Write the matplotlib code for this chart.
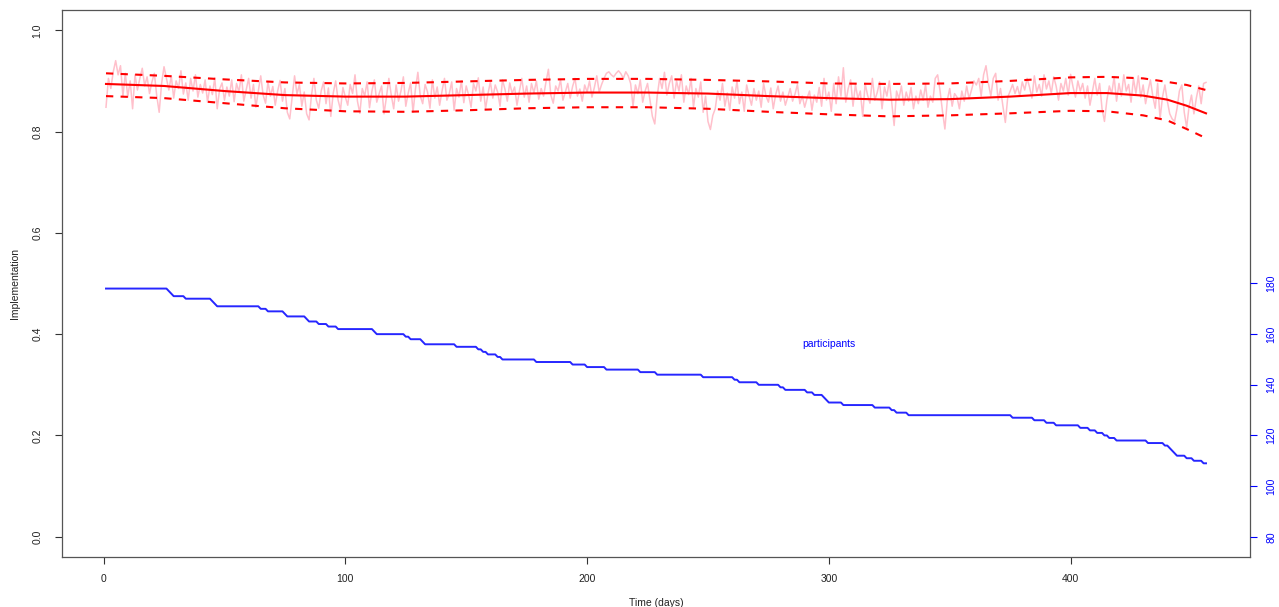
import numpy as np
import matplotlib
matplotlib.use("Agg")
import matplotlib.pyplot as plt

plt.rcParams['font.family'] = ['Liberation Sans', 'DejaVu Sans']

# ---- data -------------------------------------------------------------
# daily implementation (pink), days 1..456
impl_daily = [
    0.848, 0.905, 0.885, 0.918, 0.940, 0.912, 0.930, 0.870, 0.915, 0.868,
    0.900, 0.845, 0.912, 0.882, 0.905, 0.925, 0.890, 0.908, 0.875, 0.898,
    0.915, 0.870, 0.838, 0.895, 0.928, 0.905, 0.882, 0.910, 0.866, 0.900,
    0.885, 0.920, 0.874, 0.896, 0.862, 0.905, 0.880, 0.912, 0.868, 0.893,
    0.876, 0.902, 0.858, 0.890, 0.873, 0.906, 0.845, 0.884, 0.896, 0.862,
    0.888, 0.870, 0.902, 0.859, 0.895, 0.878, 0.912, 0.860, 0.883, 0.905,
    0.866, 0.893, 0.848, 0.880, 0.910, 0.872, 0.856, 0.898, 0.870, 0.889,
    0.852, 0.880, 0.901, 0.860, 0.885, 0.838, 0.825, 0.868, 0.910, 0.874,
    0.893, 0.850, 0.878, 0.835, 0.823, 0.872, 0.905, 0.862, 0.846, 0.880,
    0.898, 0.855, 0.886, 0.830, 0.876, 0.900, 0.862, 0.843, 0.887, 0.868,
    0.852, 0.893, 0.875, 0.912, 0.860, 0.836, 0.885, 0.870, 0.898, 0.847,
    0.880, 0.902, 0.858, 0.875, 0.890, 0.835, 0.868, 0.905, 0.872, 0.845,
    0.892, 0.860, 0.880, 0.908, 0.850, 0.876, 0.896, 0.838, 0.884, 0.917,
    0.870, 0.855, 0.893, 0.878, 0.846, 0.902, 0.866, 0.888, 0.852, 0.880,
    0.905, 0.862, 0.875, 0.898, 0.842, 0.885, 0.868, 0.900, 0.857, 0.890,
    0.872, 0.848, 0.895, 0.880, 0.906, 0.860, 0.888, 0.845, 0.875, 0.898,
    0.866, 0.892, 0.878, 0.850, 0.902, 0.884, 0.860, 0.896, 0.875, 0.888,
    0.852, 0.880, 0.905, 0.868, 0.890, 0.858, 0.895, 0.876, 0.900, 0.864,
    0.885, 0.870, 0.898, 0.923, 0.872, 0.856, 0.890, 0.880, 0.903, 0.862,
    0.878, 0.895, 0.866, 0.889, 0.905, 0.870, 0.884, 0.860, 0.892, 0.878,
    0.900, 0.868, 0.887, 0.910, 0.878, 0.893, 0.905, 0.915, 0.918, 0.912,
    0.908, 0.915, 0.920, 0.914, 0.905, 0.918, 0.910, 0.895, 0.850, 0.892,
    0.875, 0.902, 0.858, 0.880, 0.895, 0.862, 0.830, 0.815, 0.870, 0.905,
    0.885, 0.917, 0.872, 0.895, 0.910, 0.866, 0.900, 0.880, 0.912, 0.858,
    0.890, 0.873, 0.905, 0.848, 0.885, 0.868, 0.898, 0.838, 0.870, 0.820,
    0.804, 0.832, 0.845, 0.880, 0.862, 0.895, 0.850, 0.876, 0.842, 0.888,
    0.866, 0.900, 0.855, 0.878, 0.840, 0.892, 0.870, 0.852, 0.885, 0.862,
    0.880, 0.848, 0.895, 0.870, 0.858, 0.886, 0.845, 0.873, 0.890, 0.860,
    0.878, 0.852, 0.868, 0.885, 0.860, 0.874, 0.893, 0.855, 0.870, 0.848,
    0.866, 0.880, 0.842, 0.872, 0.858, 0.887, 0.850, 0.905, 0.862, 0.878,
    0.840, 0.895, 0.855, 0.908, 0.870, 0.926, 0.858, 0.885, 0.902, 0.850,
    0.893, 0.865, 0.880, 0.830, 0.895, 0.872, 0.856, 0.905, 0.862, 0.877,
    0.898, 0.845, 0.888, 0.870, 0.900, 0.858, 0.812, 0.880, 0.865, 0.890,
    0.852, 0.878, 0.860, 0.887, 0.845, 0.870, 0.855, 0.882, 0.862, 0.893,
    0.848, 0.870, 0.858, 0.905, 0.912, 0.880, 0.840, 0.805, 0.862, 0.885,
    0.850, 0.875, 0.868, 0.845, 0.880, 0.860, 0.890, 0.865, 0.882, 0.900,
    0.892, 0.905, 0.870, 0.912, 0.930, 0.895, 0.870, 0.905, 0.915, 0.862,
    0.885, 0.850, 0.818, 0.868, 0.880, 0.893, 0.875, 0.889, 0.870, 0.898,
    0.882, 0.905, 0.888, 0.866, 0.910, 0.878, 0.893, 0.870, 0.912, 0.884,
    0.900, 0.875, 0.908, 0.890, 0.862, 0.895, 0.880, 0.905, 0.872, 0.913,
    0.888, 0.868, 0.900, 0.880, 0.895, 0.866, 0.890, 0.852, 0.878, 0.905,
    0.872, 0.895, 0.845, 0.820, 0.862, 0.890, 0.875, 0.908, 0.860, 0.895,
    0.870, 0.912, 0.880, 0.893, 0.858, 0.905, 0.875, 0.910, 0.868, 0.892,
    0.855, 0.880, 0.902, 0.870, 0.846, 0.895, 0.825, 0.868, 0.892, 0.860,
    0.835, 0.825, 0.820, 0.845, 0.880, 0.892, 0.838, 0.808, 0.850, 0.872,
    0.835, 0.866, 0.890, 0.855, 0.895, 0.897,
]

# smoothed trend with confidence band (read at knots)
smooth_days = [1, 25, 50, 75, 100, 125, 150, 175, 200, 225, 250, 275, 300,
               325, 350, 375, 400, 415, 430, 440, 448, 456]
smooth_fit = [0.894, 0.890, 0.880, 0.872, 0.869, 0.869, 0.872, 0.875, 0.877,
              0.877, 0.875, 0.870, 0.866, 0.863, 0.864, 0.869, 0.876, 0.876,
              0.871, 0.863, 0.851, 0.836]
smooth_upper = [0.915, 0.910, 0.903, 0.897, 0.895, 0.896, 0.899, 0.902, 0.904,
                0.904, 0.902, 0.899, 0.895, 0.894, 0.895, 0.900, 0.907, 0.908,
                0.905, 0.898, 0.892, 0.882]
smooth_lower = [0.870, 0.866, 0.856, 0.846, 0.840, 0.839, 0.842, 0.846, 0.848,
                0.848, 0.845, 0.839, 0.834, 0.830, 0.832, 0.836, 0.841, 0.840,
                0.832, 0.822, 0.805, 0.787]

# participants: day on which a new count starts, and that count
part_change_days = [1, 27, 28, 29, 34, 45, 46, 47, 65, 68, 75, 76, 84, 85, 89,
                    93, 97, 112, 113, 125, 127, 132, 133, 146, 155, 157, 159,
                    163, 165, 179, 194, 200, 208, 222, 229, 248, 261, 263, 271,
                    280, 282, 291, 294, 298, 299, 300, 306, 319, 326, 328, 333,
                    376, 385, 390, 394, 404, 408, 411, 414, 416, 419, 432, 439,
                    441, 442, 443, 444, 448, 451, 455]
part_counts = [178, 177, 176, 175, 174, 173, 172, 171, 170, 169, 168, 167, 166,
               165, 164, 163, 162, 161, 160, 159, 158, 157, 156, 155, 154, 153,
               152, 151, 150, 149, 148, 147, 146, 145, 144, 143, 142, 141, 140,
               139, 138, 137, 136, 135, 134, 133, 132, 131, 130, 129, 128, 127,
               126, 125, 124, 123, 122, 121, 120, 119, 118, 117, 116, 115, 114,
               113, 112, 111, 110, 109]
last_day = 456

x_ticks = [0, 100, 200, 300, 400]
y_ticks = [0.0, 0.2, 0.4, 0.6, 0.8, 1.0]
p_ticks = [80, 100, 120, 140, 160, 180]

# ---- derived ----------------------------------------------------------
days = np.arange(1, len(impl_daily) + 1)
durations = np.diff(part_change_days + [last_day + 1])
part_daily = np.repeat(part_counts, durations)
part_days = np.arange(1, last_day + 1)

# ---- figure -----------------------------------------------------------
fig = plt.figure(figsize=(12.79, 6.07), dpi=100)
ax = fig.add_axes([62 / 1279, 1 - 557 / 607, (1250 - 62) / 1279, (557 - 10) / 607])

ax.plot(days, impl_daily, color='pink', lw=1.1, zorder=2)
ax.plot(smooth_days, smooth_fit, color='red', lw=1.5, zorder=3)
ax.plot(smooth_days, smooth_upper, color='red', lw=1.5, ls=(0, (3.5, 3.5)), zorder=3)
ax.plot(smooth_days, smooth_lower, color='red', lw=1.5, ls=(0, (3.5, 3.5)), zorder=3)

ax.set_xlim(-17.2, 474.2)
ax.set_ylim(-0.04, 1.04)
ax.set_xticks(x_ticks)
ax.set_xticklabels([str(t) for t in x_ticks])
ax.set_yticks(y_ticks)
ax.set_yticklabels([f"{t:.1f}" for t in y_ticks])
ax.tick_params(axis='both', direction='out', length=5, width=0.8,
               labelsize=7.5, color='#333333', labelcolor='#222222')
ax.tick_params(axis='x', pad=7)
ax.tick_params(axis='y', pad=9)
for lab in ax.get_yticklabels():
    lab.set_rotation(90)
    lab.set_va('center')
for sp in ax.spines.values():
    sp.set_color('#555555')
    sp.set_linewidth(0.9)
ax.set_xlabel('Time (days)', fontsize=7.5, labelpad=10, color='#222222')
ax.set_ylabel('Implementation', fontsize=7.5, labelpad=9, color='#222222')

ax2 = ax.twinx()
ax2.plot(part_days, part_daily, color='blue', lw=1.4, alpha=0.85, zorder=3)
ax2.set_ylim(72, 288)
ax2.set_yticks(p_ticks)
ax2.set_yticklabels([str(t) for t in p_ticks])
ax2.tick_params(axis='y', direction='out', length=5, width=0.8, labelsize=7.5,
                color='blue', labelcolor='blue', pad=7)
for lab in ax2.get_yticklabels():
    lab.set_rotation(90)
    lab.set_va('center')
for sp in ax2.spines.values():
    sp.set_visible(False)
ax2.text(300, 156, 'participants', color='blue', fontsize=7.5,
         ha='center', va='center')

fig.savefig('out.png', dpi=100)
